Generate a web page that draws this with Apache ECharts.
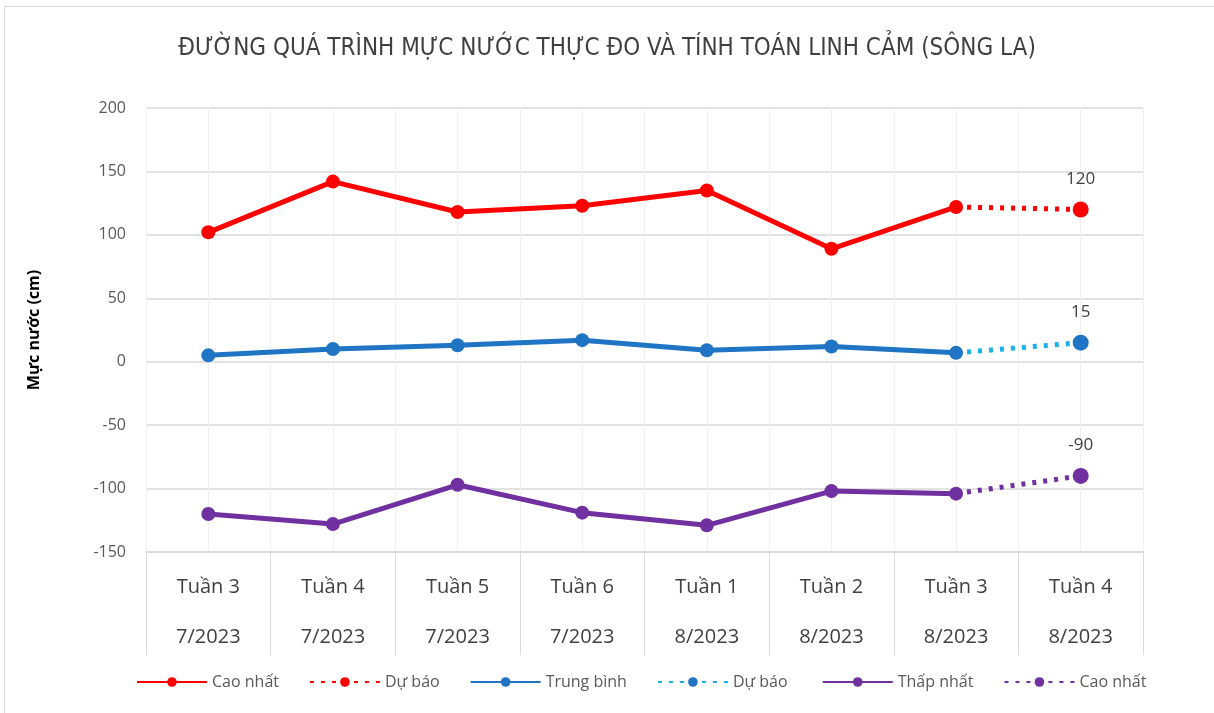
<!DOCTYPE html>
<html>
<head>
<meta charset="utf-8">
<script src="https://cdn.jsdelivr.net/npm/echarts@6/dist/echarts.min.js"></script>
<style>
  html, body { margin: 0; padding: 0; background: #fff; }
  #chart { width: 1214px; height: 713px; }
</style>
</head>
<body>
<div id="chart"></div>
<script>
'use strict';

// tuần / tháng
var weeks = ['Tuần 3', 'Tuần 4', 'Tuần 5', 'Tuần 6', 'Tuần 1', 'Tuần 2', 'Tuần 3', 'Tuần 4'];
var months = ['7/2023', '7/2023', '7/2023', '7/2023', '8/2023', '8/2023', '8/2023', '8/2023'];

// mực nước thực đo (cm)
var highObs = [102, 142, 118, 123, 135, 89, 122, null];
var meanObs = [5, 10, 13, 17, 9, 12, 7, null];
var lowObs = [-120, -128, -97, -119, -129, -102, -104, null];

// dự báo (nối từ tuần cuối thực đo)
var highFc = [null, null, null, null, null, null, 122, 120];
var meanFc = [null, null, null, null, null, null, 7, 15];
var lowFc = [null, null, null, null, null, null, -104, -90];

var yTicks = [-150, -100, -50, 0, 50, 100, 150, 200];

var categories = weeks.map(function (w, i) { return w + '\n' + months[i]; });
var halfCats = [];
for (var i = 0; i < categories.length * 2; i++) halfCats.push(String(i));

var RED = '#ff0000';
var BLUE = '#1f74c4';
var CYAN = '#1ab0e8';
var PURPLE = '#7030a0';
var FONT = 'Open Sans';
var NARROW = 'Liberation Sans Narrow, DejaVu Sans Condensed, Open Sans';

function lastLabel(data) {
  return {
    show: true,
    position: 'top',
    distance: 14,
    color: '#404040',
    fontSize: 17,
    fontFamily: FONT,
    formatter: function (p) { return p.dataIndex === data.length - 1 ? p.value : ''; }
  };
}

function solid(name, data, color) {
  return {
    name: name,
    type: 'line',
    xAxisIndex: 0,
    data: data,
    symbol: 'circle',
    symbolSize: 14,
    lineStyle: { color: color, width: 5 },
    itemStyle: { color: color },
    z: 3
  };
}

function dotted(name, data, lineColor, markColor) {
  return {
    name: name,
    type: 'line',
    xAxisIndex: 0,
    data: data,
    symbol: 'circle',
    symbolSize: function (v, p) { return p.dataIndex === data.length - 1 ? 16 : 0; },
    lineStyle: { color: lineColor, width: 5, type: [4, 7] },
    itemStyle: { color: markColor },
    label: lastLabel(data),
    z: 2
  };
}

var myChart = echarts.init(document.getElementById('chart'));
var option = {
  animation: false,
  backgroundColor: '#fff',
  textStyle: { fontFamily: FONT },
  title: {
    text: 'ĐƯỜNG QUÁ TRÌNH MỰC NƯỚC THỰC ĐO VÀ TÍNH TOÁN LINH CẢM (SÔNG LA)',
    left: 'center',
    top: 32,
    textStyle: { fontSize: 24, fontWeight: 'normal', color: '#404040', fontFamily: NARROW }
  },
  graphic: [{
    type: 'rect',
    shape: { x: 4.5, y: 6.5, width: 1220, height: 720 },
    style: { fill: 'none', stroke: '#d9d9d9', lineWidth: 1 },
    silent: true
  }],
  legend: {
    bottom: 18,
    left: 131,
    itemWidth: 70,
    itemHeight: 12,
    itemGap: 30,
    textStyle: { fontSize: 16, color: '#595959', fontFamily: FONT },
    data: ['Cao nhất', 'Dự báo', 'Trung bình', 'Dự báo ', 'Thấp nhất', 'Cao nhất ']
  },
  grid: { left: 146, right: 71, top: 108, bottom: 161, containLabel: false },
  xAxis: [{
    type: 'category',
    data: categories,
    boundaryGap: true,
    position: 'bottom',
    axisLine: { show: true, onZero: false, lineStyle: { color: '#d9d9d9', width: 1.5 } },
    axisTick: { show: true, inside: false, length: 103, interval: 0, lineStyle: { color: '#d9d9d9' } },
    axisLabel: {
      interval: 0,
      margin: 10,
      fontSize: 20,
      lineHeight: 50,
      color: '#404040',
      fontFamily: FONT
    },
    splitLine: { show: true, interval: 0, lineStyle: { color: '#f0f0f0' } }
  }, {
    type: 'category',
    data: halfCats,
    position: 'top',
    boundaryGap: true,
    axisLine: { show: false },
    axisTick: { show: false },
    axisLabel: { show: false },
    splitLine: { show: true, interval: 0, lineStyle: { color: '#f0f0f0' } }
  }],
  yAxis: {
    type: 'value',
    min: yTicks[0],
    max: yTicks[yTicks.length - 1],
    interval: 50,
    name: 'Mực nước (cm)',
    nameLocation: 'middle',
    nameGap: 104,
    nameTextStyle: { fontSize: 16, fontWeight: 'bold', color: '#000', fontFamily: FONT },
    axisLine: { show: false },
    axisTick: { show: false },
    axisLabel: { fontSize: 16, color: '#595959', margin: 20, fontFamily: FONT },
    splitLine: { lineStyle: { color: '#d9d9d9', width: 1.5 } }
  },
  series: [
    solid('Cao nhất', highObs, RED),
    dotted('Dự báo', highFc, RED, RED),
    solid('Trung bình', meanObs, BLUE),
    dotted('Dự báo ', meanFc, CYAN, BLUE),
    solid('Thấp nhất', lowObs, PURPLE),
    dotted('Cao nhất ', lowFc, PURPLE, PURPLE)
  ]
};
myChart.setOption(option);
</script>
</body>
</html>
